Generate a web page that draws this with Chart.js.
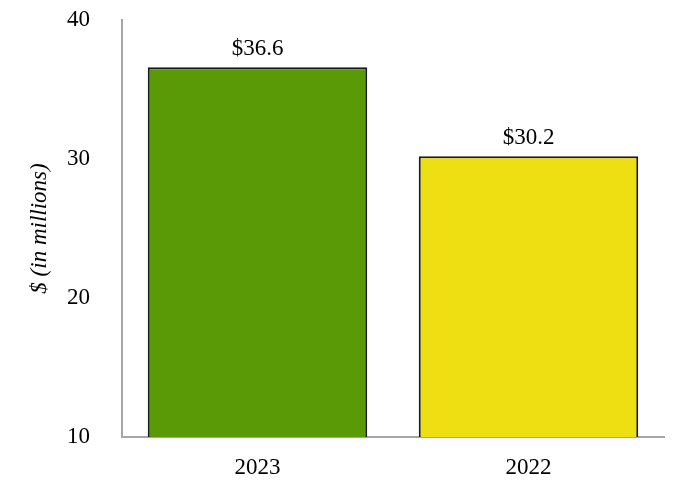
<!DOCTYPE html>
<html>
<head>
<meta charset="utf-8">
<script src="https://cdn.jsdelivr.net/npm/chart.js@4.4.0/dist/chart.umd.min.js"></script>
<style>
  html, body { margin: 0; padding: 0; background: #fff; }
  #wrap { width: 682px; height: 500px; }
</style>
</head>
<body>
<div id="wrap"><canvas id="chart" width="682" height="500"></canvas></div>
<script>
// Data
const years = ['2023', '2022'];
const amounts = [36.6, 30.2];
const barColors = ['#5b9a07', '#eddf11'];
const yTicks = [10, 20, 30, 40];

const font = 'Liberation Serif, Times New Roman, serif';

// Value labels above the bars
const valueLabels = {
  id: 'valueLabels',
  afterDatasetsDraw(chart) {
    const ctx = chart.ctx;
    const meta = chart.getDatasetMeta(0);
    ctx.save();
    ctx.font = '23px ' + font;
    ctx.fillStyle = '#000';
    ctx.textAlign = 'center';
    ctx.textBaseline = 'bottom';
    meta.data.forEach((bar, i) => {
      ctx.fillText('$' + amounts[i].toFixed(1), bar.x, bar.y - 7);
    });
    ctx.restore();
  }
};

new Chart(document.querySelector('#chart'), {
  type: 'bar',
  data: {
    labels: years,
    datasets: [{
      data: amounts,
      backgroundColor: barColors,
      borderColor: '#1a1a1a',
      borderWidth: 2,
      barPercentage: 0.81,
      categoryPercentage: 1
    }]
  },
  options: {
    responsive: false,
    animation: false,
    layout: { padding: { top: 20, right: 18, bottom: 0, left: 0 } },
    plugins: {
      legend: { display: false },
      tooltip: { enabled: false }
    },
    scales: {
      x: {
        grid: { display: false, drawTicks: false },
        border: { color: '#a6a6a6', width: 2 },
        ticks: { color: '#000', font: { family: font, size: 23 }, padding: 17 },
        afterFit: (scale) => { scale.height = 63; scale.paddingLeft = 0; scale.paddingRight = 0; }
      },
      y: {
        min: yTicks[0],
        max: yTicks[yTicks.length - 1],
        grid: { display: false, drawTicks: false },
        border: { color: '#a6a6a6', width: 2 },
        ticks: { stepSize: 10, color: '#000', font: { family: font, size: 23 }, padding: 32 },
        title: {
          display: true,
          text: '$ (in millions)',
          color: '#000',
          font: { family: font, size: 23, style: 'italic' },
          padding: { top: 26, bottom: 0 }
        },
        afterFit: (scale) => { scale.width = 122; scale.paddingTop = 0; scale.paddingBottom = 0; }
      }
    }
  },
  plugins: [valueLabels]
});
</script>
</body>
</html>
